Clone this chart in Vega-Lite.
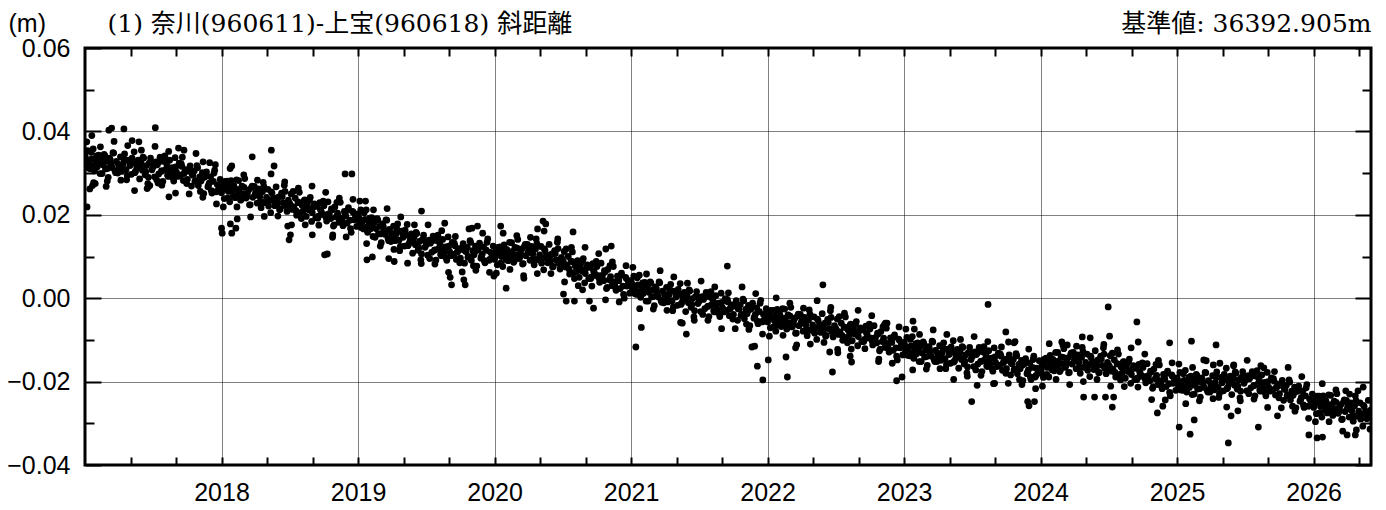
{
  "$schema": "https://vega.github.io/schema/vega-lite/v6.json",
  "width": 1286,
  "height": 417,
  "autosize": {"type": "none"},
  "padding": {"left": 85, "top": 48, "right": 15, "bottom": 45},
  "background": "white",
  "config": {
    "view": {"stroke": "black", "strokeWidth": 3},
    "axis": {"labelFont": "Liberation Sans", "labelFontSize": 25, "labelColor": "black", "domain": false, "tickColor": "black", "tickWidth": 2, "gridColor": "black", "gridDash": [1, 1], "gridWidth": 1, "titleColor": "black", "titleFontWeight": "normal"}
  },
  "datasets": {
    "gnss": [
{"t":2017.00,"v":0.0342},{"t":2017.01,"v":0.0322},{"t":2017.02,"v":0.0354},{"t":2017.03,"v":0.0326},{"t":2017.04,"v":0.0310},{"t":2017.05,"v":0.0334},{"t":2017.06,"v":0.0358},{"t":2017.07,"v":0.0305},{"t":2017.08,"v":0.0329},{"t":2017.09,"v":0.0315},{"t":2017.10,"v":0.0343},{"t":2017.11,"v":0.0299},{"t":2017.12,"v":0.0334},{"t":2017.13,"v":0.0320},{"t":2017.14,"v":0.0345},{"t":2017.15,"v":0.0310},{"t":2017.16,"v":0.0328},{"t":2017.17,"v":0.0290},{"t":2017.18,"v":0.0336},{"t":2017.19,"v":0.0322},{"t":2017.20,"v":0.0313},{"t":2017.21,"v":0.0348},{"t":2017.22,"v":0.0305},{"t":2017.23,"v":0.0328},{"t":2017.24,"v":0.0300},
{"t":2017.25,"v":0.0314},{"t":2017.26,"v":0.0339},{"t":2017.27,"v":0.0304},{"t":2017.28,"v":0.0322},{"t":2017.29,"v":0.0346},{"t":2017.30,"v":0.0308},{"t":2017.31,"v":0.0294},{"t":2017.32,"v":0.0331},{"t":2017.33,"v":0.0318},{"t":2017.34,"v":0.0297},{"t":2017.35,"v":0.0324},{"t":2017.36,"v":0.0351},{"t":2017.37,"v":0.0304},{"t":2017.38,"v":0.0313},{"t":2017.39,"v":0.0331},{"t":2017.40,"v":0.0286},{"t":2017.41,"v":0.0325},{"t":2017.42,"v":0.0307},{"t":2017.43,"v":0.0336},{"t":2017.44,"v":0.0296},{"t":2017.45,"v":0.0318},{"t":2017.46,"v":0.0275},{"t":2017.47,"v":0.0324},{"t":2017.48,"v":0.0336},{"t":2017.49,"v":0.0308},
{"t":2017.50,"v":0.0315},{"t":2017.51,"v":0.0291},{"t":2017.52,"v":0.0327},{"t":2017.53,"v":0.0320},{"t":2017.54,"v":0.0298},{"t":2017.55,"v":0.0338},{"t":2017.56,"v":0.0305},{"t":2017.57,"v":0.0280},{"t":2017.58,"v":0.0328},{"t":2017.59,"v":0.0308},{"t":2017.60,"v":0.0320},{"t":2017.61,"v":0.0292},{"t":2017.62,"v":0.0331},{"t":2017.63,"v":0.0298},{"t":2017.64,"v":0.0313},{"t":2017.65,"v":0.0281},{"t":2017.66,"v":0.0337},{"t":2017.67,"v":0.0302},{"t":2017.68,"v":0.0292},{"t":2017.69,"v":0.0324},{"t":2017.70,"v":0.0295},{"t":2017.71,"v":0.0316},{"t":2017.72,"v":0.0282},{"t":2017.73,"v":0.0302},{"t":2017.74,"v":0.0308},
{"t":2017.75,"v":0.0285},{"t":2017.76,"v":0.0305},{"t":2017.77,"v":0.0317},{"t":2017.78,"v":0.0269},{"t":2017.79,"v":0.0295},{"t":2017.80,"v":0.0305},{"t":2017.81,"v":0.0282},{"t":2017.82,"v":0.0318},{"t":2017.83,"v":0.0270},{"t":2017.84,"v":0.0291},{"t":2017.85,"v":0.0281},{"t":2017.86,"v":0.0301},{"t":2017.87,"v":0.0251},{"t":2017.88,"v":0.0291},{"t":2017.89,"v":0.0303},{"t":2017.90,"v":0.0267},{"t":2017.91,"v":0.0276},{"t":2017.92,"v":0.0291},{"t":2017.93,"v":0.0252},{"t":2017.94,"v":0.0280},{"t":2017.95,"v":0.0307},{"t":2017.96,"v":0.0255},{"t":2017.97,"v":0.0272},{"t":2017.98,"v":0.0260},{"t":2017.99,"v":0.0285},
{"t":2018.00,"v":0.0253},{"t":2018.01,"v":0.0272},{"t":2018.02,"v":0.0239},{"t":2018.03,"v":0.0266},{"t":2018.04,"v":0.0281},{"t":2018.05,"v":0.0256},{"t":2018.06,"v":0.0231},{"t":2018.07,"v":0.0282},{"t":2018.08,"v":0.0258},{"t":2018.09,"v":0.0270},{"t":2018.10,"v":0.0241},{"t":2018.11,"v":0.0284},{"t":2018.12,"v":0.0248},{"t":2018.13,"v":0.0261},{"t":2018.14,"v":0.0235},{"t":2018.15,"v":0.0269},{"t":2018.16,"v":0.0250},{"t":2018.17,"v":0.0287},{"t":2018.18,"v":0.0240},{"t":2018.19,"v":0.0252},{"t":2018.20,"v":0.0260},{"t":2018.21,"v":0.0224},{"t":2018.22,"v":0.0266},{"t":2018.23,"v":0.0242},{"t":2018.24,"v":0.0268},
{"t":2018.25,"v":0.0254},{"t":2018.26,"v":0.0228},{"t":2018.27,"v":0.0262},{"t":2018.28,"v":0.0243},{"t":2018.29,"v":0.0217},{"t":2018.30,"v":0.0255},{"t":2018.31,"v":0.0268},{"t":2018.32,"v":0.0229},{"t":2018.33,"v":0.0242},{"t":2018.34,"v":0.0261},{"t":2018.35,"v":0.0233},{"t":2018.36,"v":0.0205},{"t":2018.37,"v":0.0252},{"t":2018.38,"v":0.0241},{"t":2018.39,"v":0.0222},{"t":2018.40,"v":0.0267},{"t":2018.41,"v":0.0227},{"t":2018.42,"v":0.0243},{"t":2018.43,"v":0.0214},{"t":2018.44,"v":0.0252},{"t":2018.45,"v":0.0229},{"t":2018.46,"v":0.0271},{"t":2018.47,"v":0.0221},{"t":2018.48,"v":0.0208},{"t":2018.49,"v":0.0235},
{"t":2018.50,"v":0.0227},{"t":2018.51,"v":0.0250},{"t":2018.52,"v":0.0213},{"t":2018.53,"v":0.0219},{"t":2018.54,"v":0.0240},{"t":2018.55,"v":0.0199},{"t":2018.56,"v":0.0231},{"t":2018.57,"v":0.0254},{"t":2018.58,"v":0.0205},{"t":2018.59,"v":0.0223},{"t":2018.60,"v":0.0210},{"t":2018.61,"v":0.0236},{"t":2018.62,"v":0.0196},{"t":2018.63,"v":0.0228},{"t":2018.64,"v":0.0212},{"t":2018.65,"v":0.0242},{"t":2018.66,"v":0.0184},{"t":2018.67,"v":0.0218},{"t":2018.68,"v":0.0226},{"t":2018.69,"v":0.0193},{"t":2018.70,"v":0.0220},{"t":2018.71,"v":0.0197},{"t":2018.72,"v":0.0229},{"t":2018.73,"v":0.0209},{"t":2018.74,"v":0.0201},
{"t":2018.75,"v":0.0222},{"t":2018.76,"v":0.0200},{"t":2018.77,"v":0.0185},{"t":2018.78,"v":0.0231},{"t":2018.79,"v":0.0202},{"t":2018.80,"v":0.0191},{"t":2018.81,"v":0.0212},{"t":2018.82,"v":0.0173},{"t":2018.83,"v":0.0219},{"t":2018.84,"v":0.0195},{"t":2018.85,"v":0.0204},{"t":2018.86,"v":0.0182},{"t":2018.87,"v":0.0230},{"t":2018.88,"v":0.0188},{"t":2018.89,"v":0.0174},{"t":2018.90,"v":0.0208},{"t":2018.91,"v":0.0197},{"t":2018.92,"v":0.0180},{"t":2018.93,"v":0.0217},{"t":2018.94,"v":0.0187},{"t":2018.95,"v":0.0158},{"t":2018.96,"v":0.0208},{"t":2018.97,"v":0.0188},{"t":2018.98,"v":0.0199},{"t":2018.99,"v":0.0172},
{"t":2019.00,"v":0.0202},{"t":2019.01,"v":0.0181},{"t":2019.02,"v":0.0212},{"t":2019.03,"v":0.0183},{"t":2019.04,"v":0.0166},{"t":2019.05,"v":0.0189},{"t":2019.06,"v":0.0212},{"t":2019.07,"v":0.0158},{"t":2019.08,"v":0.0181},{"t":2019.09,"v":0.0166},{"t":2019.10,"v":0.0193},{"t":2019.11,"v":0.0148},{"t":2019.12,"v":0.0182},{"t":2019.13,"v":0.0167},{"t":2019.14,"v":0.0191},{"t":2019.15,"v":0.0155},{"t":2019.16,"v":0.0172},{"t":2019.17,"v":0.0133},{"t":2019.18,"v":0.0178},{"t":2019.19,"v":0.0163},{"t":2019.20,"v":0.0153},{"t":2019.21,"v":0.0187},{"t":2019.22,"v":0.0143},{"t":2019.23,"v":0.0165},{"t":2019.24,"v":0.0136},
{"t":2019.25,"v":0.0149},{"t":2019.26,"v":0.0173},{"t":2019.27,"v":0.0138},{"t":2019.28,"v":0.0154},{"t":2019.29,"v":0.0178},{"t":2019.30,"v":0.0139},{"t":2019.31,"v":0.0124},{"t":2019.32,"v":0.0161},{"t":2019.33,"v":0.0146},{"t":2019.34,"v":0.0125},{"t":2019.35,"v":0.0151},{"t":2019.36,"v":0.0177},{"t":2019.37,"v":0.0129},{"t":2019.38,"v":0.0137},{"t":2019.39,"v":0.0154},{"t":2019.40,"v":0.0108},{"t":2019.41,"v":0.0146},{"t":2019.42,"v":0.0128},{"t":2019.43,"v":0.0155},{"t":2019.44,"v":0.0115},{"t":2019.45,"v":0.0136},{"t":2019.46,"v":0.0092},{"t":2019.47,"v":0.0140},{"t":2019.48,"v":0.0151},{"t":2019.49,"v":0.0122},
{"t":2019.50,"v":0.0128},{"t":2019.51,"v":0.0103},{"t":2019.52,"v":0.0139},{"t":2019.53,"v":0.0132},{"t":2019.54,"v":0.0110},{"t":2019.55,"v":0.0149},{"t":2019.56,"v":0.0115},{"t":2019.57,"v":0.0091},{"t":2019.58,"v":0.0138},{"t":2019.59,"v":0.0119},{"t":2019.60,"v":0.0130},{"t":2019.61,"v":0.0102},{"t":2019.62,"v":0.0141},{"t":2019.63,"v":0.0108},{"t":2019.64,"v":0.0123},{"t":2019.65,"v":0.0091},{"t":2019.66,"v":0.0147},{"t":2019.67,"v":0.0112},{"t":2019.68,"v":0.0102},{"t":2019.69,"v":0.0134},{"t":2019.70,"v":0.0105},{"t":2019.71,"v":0.0126},{"t":2019.72,"v":0.0093},{"t":2019.73,"v":0.0112},{"t":2019.74,"v":0.0119},
{"t":2019.75,"v":0.0096},{"t":2019.76,"v":0.0117},{"t":2019.77,"v":0.0131},{"t":2019.78,"v":0.0084},{"t":2019.79,"v":0.0112},{"t":2019.80,"v":0.0122},{"t":2019.81,"v":0.0100},{"t":2019.82,"v":0.0138},{"t":2019.83,"v":0.0091},{"t":2019.84,"v":0.0114},{"t":2019.85,"v":0.0104},{"t":2019.86,"v":0.0125},{"t":2019.87,"v":0.0077},{"t":2019.88,"v":0.0118},{"t":2019.89,"v":0.0132},{"t":2019.90,"v":0.0096},{"t":2019.91,"v":0.0106},{"t":2019.92,"v":0.0123},{"t":2019.93,"v":0.0085},{"t":2019.94,"v":0.0115},{"t":2019.95,"v":0.0142},{"t":2019.96,"v":0.0091},{"t":2019.97,"v":0.0110},{"t":2019.98,"v":0.0099},{"t":2019.99,"v":0.0125},
{"t":2020.00,"v":0.0093},{"t":2020.01,"v":0.0113},{"t":2020.02,"v":0.0080},{"t":2020.03,"v":0.0108},{"t":2020.04,"v":0.0123},{"t":2020.05,"v":0.0100},{"t":2020.06,"v":0.0076},{"t":2020.07,"v":0.0128},{"t":2020.08,"v":0.0104},{"t":2020.09,"v":0.0117},{"t":2020.10,"v":0.0090},{"t":2020.11,"v":0.0134},{"t":2020.12,"v":0.0098},{"t":2020.13,"v":0.0112},{"t":2020.14,"v":0.0086},{"t":2020.15,"v":0.0122},{"t":2020.16,"v":0.0104},{"t":2020.17,"v":0.0141},{"t":2020.18,"v":0.0095},{"t":2020.19,"v":0.0108},{"t":2020.20,"v":0.0118},{"t":2020.21,"v":0.0083},{"t":2020.22,"v":0.0125},{"t":2020.23,"v":0.0102},{"t":2020.24,"v":0.0129},
{"t":2020.25,"v":0.0116},{"t":2020.26,"v":0.0091},{"t":2020.27,"v":0.0124},{"t":2020.28,"v":0.0106},{"t":2020.29,"v":0.0080},{"t":2020.30,"v":0.0118},{"t":2020.31,"v":0.0131},{"t":2020.32,"v":0.0092},{"t":2020.33,"v":0.0104},{"t":2020.34,"v":0.0124},{"t":2020.35,"v":0.0096},{"t":2020.36,"v":0.0068},{"t":2020.37,"v":0.0114},{"t":2020.38,"v":0.0104},{"t":2020.39,"v":0.0085},{"t":2020.40,"v":0.0129},{"t":2020.41,"v":0.0089},{"t":2020.42,"v":0.0106},{"t":2020.43,"v":0.0076},{"t":2020.44,"v":0.0114},{"t":2020.45,"v":0.0092},{"t":2020.46,"v":0.0134},{"t":2020.47,"v":0.0084},{"t":2020.48,"v":0.0070},{"t":2020.49,"v":0.0098},
{"t":2020.50,"v":0.0090},{"t":2020.51,"v":0.0112},{"t":2020.52,"v":0.0075},{"t":2020.53,"v":0.0079},{"t":2020.54,"v":0.0100},{"t":2020.55,"v":0.0058},{"t":2020.56,"v":0.0089},{"t":2020.57,"v":0.0111},{"t":2020.58,"v":0.0061},{"t":2020.59,"v":0.0078},{"t":2020.60,"v":0.0064},{"t":2020.61,"v":0.0090},{"t":2020.62,"v":0.0050},{"t":2020.63,"v":0.0081},{"t":2020.64,"v":0.0065},{"t":2020.65,"v":0.0095},{"t":2020.66,"v":0.0037},{"t":2020.67,"v":0.0071},{"t":2020.68,"v":0.0080},{"t":2020.69,"v":0.0047},{"t":2020.70,"v":0.0074},{"t":2020.71,"v":0.0051},{"t":2020.72,"v":0.0083},{"t":2020.73,"v":0.0063},{"t":2020.74,"v":0.0055},
{"t":2020.75,"v":0.0076},{"t":2020.76,"v":0.0054},{"t":2020.77,"v":0.0038},{"t":2020.78,"v":0.0084},{"t":2020.79,"v":0.0054},{"t":2020.80,"v":0.0042},{"t":2020.81,"v":0.0063},{"t":2020.82,"v":0.0023},{"t":2020.83,"v":0.0069},{"t":2020.84,"v":0.0044},{"t":2020.85,"v":0.0052},{"t":2020.86,"v":0.0030},{"t":2020.87,"v":0.0076},{"t":2020.88,"v":0.0034},{"t":2020.89,"v":0.0019},{"t":2020.90,"v":0.0053},{"t":2020.91,"v":0.0042},{"t":2020.92,"v":0.0023},{"t":2020.93,"v":0.0060},{"t":2020.94,"v":0.0029},{"t":2020.95,"v":0.0000},{"t":2020.96,"v":0.0050},{"t":2020.97,"v":0.0029},{"t":2020.98,"v":0.0039},{"t":2020.99,"v":0.0012},
{"t":2021.00,"v":0.0042},{"t":2021.01,"v":0.0021},{"t":2021.02,"v":0.0053},{"t":2021.03,"v":0.0025},{"t":2021.04,"v":0.0009},{"t":2021.05,"v":0.0032},{"t":2021.06,"v":0.0055},{"t":2021.07,"v":0.0002},{"t":2021.08,"v":0.0025},{"t":2021.09,"v":0.0011},{"t":2021.10,"v":0.0038},{"t":2021.11,"v":-0.0007},{"t":2021.12,"v":0.0028},{"t":2021.13,"v":0.0014},{"t":2021.14,"v":0.0039},{"t":2021.15,"v":0.0003},{"t":2021.16,"v":0.0020},{"t":2021.17,"v":-0.0018},{"t":2021.18,"v":0.0027},{"t":2021.19,"v":0.0013},{"t":2021.20,"v":0.0003},{"t":2021.21,"v":0.0037},{"t":2021.22,"v":-0.0006},{"t":2021.23,"v":0.0017},{"t":2021.24,"v":-0.0011},
{"t":2021.25,"v":0.0002},{"t":2021.26,"v":0.0026},{"t":2021.27,"v":-0.0009},{"t":2021.28,"v":0.0009},{"t":2021.29,"v":0.0033},{"t":2021.30,"v":-0.0006},{"t":2021.31,"v":-0.0021},{"t":2021.32,"v":0.0017},{"t":2021.33,"v":0.0003},{"t":2021.34,"v":-0.0017},{"t":2021.35,"v":0.0009},{"t":2021.36,"v":0.0035},{"t":2021.37,"v":-0.0012},{"t":2021.38,"v":-0.0003},{"t":2021.39,"v":0.0014},{"t":2021.40,"v":-0.0032},{"t":2021.41,"v":0.0006},{"t":2021.42,"v":-0.0011},{"t":2021.43,"v":0.0017},{"t":2021.44,"v":-0.0022},{"t":2021.45,"v":-0.0001},{"t":2021.46,"v":-0.0045},{"t":2021.47,"v":0.0003},{"t":2021.48,"v":0.0016},{"t":2021.49,"v":-0.0013},
{"t":2021.50,"v":-0.0007},{"t":2021.51,"v":-0.0032},{"t":2021.52,"v":0.0004},{"t":2021.53,"v":-0.0003},{"t":2021.54,"v":-0.0025},{"t":2021.55,"v":0.0014},{"t":2021.56,"v":-0.0020},{"t":2021.57,"v":-0.0044},{"t":2021.58,"v":0.0003},{"t":2021.59,"v":-0.0016},{"t":2021.60,"v":-0.0005},{"t":2021.61,"v":-0.0033},{"t":2021.62,"v":0.0006},{"t":2021.63,"v":-0.0027},{"t":2021.64,"v":-0.0012},{"t":2021.65,"v":-0.0044},{"t":2021.66,"v":0.0012},{"t":2021.67,"v":-0.0023},{"t":2021.68,"v":-0.0033},{"t":2021.69,"v":-0.0001},{"t":2021.70,"v":-0.0030},{"t":2021.71,"v":-0.0009},{"t":2021.72,"v":-0.0042},{"t":2021.73,"v":-0.0023},{"t":2021.74,"v":-0.0016},
{"t":2021.75,"v":-0.0039},{"t":2021.76,"v":-0.0019},{"t":2021.77,"v":-0.0006},{"t":2021.78,"v":-0.0053},{"t":2021.79,"v":-0.0026},{"t":2021.80,"v":-0.0016},{"t":2021.81,"v":-0.0039},{"t":2021.82,"v":-0.0002},{"t":2021.83,"v":-0.0049},{"t":2021.84,"v":-0.0027},{"t":2021.85,"v":-0.0037},{"t":2021.86,"v":-0.0017},{"t":2021.87,"v":-0.0066},{"t":2021.88,"v":-0.0025},{"t":2021.89,"v":-0.0012},{"t":2021.90,"v":-0.0048},{"t":2021.91,"v":-0.0039},{"t":2021.92,"v":-0.0023},{"t":2021.93,"v":-0.0061},{"t":2021.94,"v":-0.0032},{"t":2021.95,"v":-0.0005},{"t":2021.96,"v":-0.0057},{"t":2021.97,"v":-0.0039},{"t":2021.98,"v":-0.0050},{"t":2021.99,"v":-0.0025},
{"t":2022.00,"v":-0.0057},{"t":2022.01,"v":-0.0038},{"t":2022.02,"v":-0.0071},{"t":2022.03,"v":-0.0044},{"t":2022.04,"v":-0.0029},{"t":2022.05,"v":-0.0054},{"t":2022.06,"v":-0.0079},{"t":2022.07,"v":-0.0027},{"t":2022.08,"v":-0.0052},{"t":2022.09,"v":-0.0039},{"t":2022.10,"v":-0.0068},{"t":2022.11,"v":-0.0025},{"t":2022.12,"v":-0.0061},{"t":2022.13,"v":-0.0048},{"t":2022.14,"v":-0.0074},{"t":2022.15,"v":-0.0040},{"t":2022.16,"v":-0.0059},{"t":2022.17,"v":-0.0022},{"t":2022.18,"v":-0.0069},{"t":2022.19,"v":-0.0056},{"t":2022.20,"v":-0.0048},{"t":2022.21,"v":-0.0084},{"t":2022.22,"v":-0.0042},{"t":2022.23,"v":-0.0066},{"t":2022.24,"v":-0.0039},
{"t":2022.25,"v":-0.0054},{"t":2022.26,"v":-0.0079},{"t":2022.27,"v":-0.0046},{"t":2022.28,"v":-0.0064},{"t":2022.29,"v":-0.0090},{"t":2022.30,"v":-0.0052},{"t":2022.31,"v":-0.0038},{"t":2022.32,"v":-0.0077},{"t":2022.33,"v":-0.0064},{"t":2022.34,"v":-0.0045},{"t":2022.35,"v":-0.0072},{"t":2022.36,"v":-0.0099},{"t":2022.37,"v":-0.0053},{"t":2022.38,"v":-0.0063},{"t":2022.39,"v":-0.0082},{"t":2022.40,"v":-0.0037},{"t":2022.41,"v":-0.0076},{"t":2022.42,"v":-0.0060},{"t":2022.43,"v":-0.0089},{"t":2022.44,"v":-0.0051},{"t":2022.45,"v":-0.0073},{"t":2022.46,"v":-0.0030},{"t":2022.47,"v":-0.0080},{"t":2022.48,"v":-0.0093},{"t":2022.49,"v":-0.0066},
{"t":2022.50,"v":-0.0073},{"t":2022.51,"v":-0.0050},{"t":2022.52,"v":-0.0087},{"t":2022.53,"v":-0.0081},{"t":2022.54,"v":-0.0060},{"t":2022.55,"v":-0.0101},{"t":2022.56,"v":-0.0069},{"t":2022.57,"v":-0.0045},{"t":2022.58,"v":-0.0094},{"t":2022.59,"v":-0.0076},{"t":2022.60,"v":-0.0088},{"t":2022.61,"v":-0.0062},{"t":2022.62,"v":-0.0102},{"t":2022.63,"v":-0.0071},{"t":2022.64,"v":-0.0086},{"t":2022.65,"v":-0.0056},{"t":2022.66,"v":-0.0114},{"t":2022.67,"v":-0.0079},{"t":2022.68,"v":-0.0071},{"t":2022.69,"v":-0.0104},{"t":2022.70,"v":-0.0076},{"t":2022.71,"v":-0.0099},{"t":2022.72,"v":-0.0067},{"t":2022.73,"v":-0.0088},{"t":2022.74,"v":-0.0095},
{"t":2022.75,"v":-0.0074},{"t":2022.76,"v":-0.0096},{"t":2022.77,"v":-0.0112},{"t":2022.78,"v":-0.0066},{"t":2022.79,"v":-0.0095},{"t":2022.80,"v":-0.0107},{"t":2022.81,"v":-0.0086},{"t":2022.82,"v":-0.0126},{"t":2022.83,"v":-0.0080},{"t":2022.84,"v":-0.0104},{"t":2022.85,"v":-0.0096},{"t":2022.86,"v":-0.0118},{"t":2022.87,"v":-0.0072},{"t":2022.88,"v":-0.0114},{"t":2022.89,"v":-0.0129},{"t":2022.90,"v":-0.0095},{"t":2022.91,"v":-0.0106},{"t":2022.92,"v":-0.0125},{"t":2022.93,"v":-0.0088},{"t":2022.94,"v":-0.0119},{"t":2022.95,"v":-0.0148},{"t":2022.96,"v":-0.0098},{"t":2022.97,"v":-0.0119},{"t":2022.98,"v":-0.0109},{"t":2022.99,"v":-0.0136},
{"t":2023.00,"v":-0.0106},{"t":2023.01,"v":-0.0127},{"t":2023.02,"v":-0.0094},{"t":2023.03,"v":-0.0123},{"t":2023.04,"v":-0.0138},{"t":2023.05,"v":-0.0115},{"t":2023.06,"v":-0.0092},{"t":2023.07,"v":-0.0144},{"t":2023.08,"v":-0.0121},{"t":2023.09,"v":-0.0134},{"t":2023.10,"v":-0.0107},{"t":2023.11,"v":-0.0152},{"t":2023.12,"v":-0.0116},{"t":2023.13,"v":-0.0131},{"t":2023.14,"v":-0.0105},{"t":2023.15,"v":-0.0141},{"t":2023.16,"v":-0.0124},{"t":2023.17,"v":-0.0161},{"t":2023.18,"v":-0.0116},{"t":2023.19,"v":-0.0129},{"t":2023.20,"v":-0.0139},{"t":2023.21,"v":-0.0105},{"t":2023.22,"v":-0.0147},{"t":2023.23,"v":-0.0125},{"t":2023.24,"v":-0.0152},
{"t":2023.25,"v":-0.0139},{"t":2023.26,"v":-0.0114},{"t":2023.27,"v":-0.0149},{"t":2023.28,"v":-0.0131},{"t":2023.29,"v":-0.0107},{"t":2023.30,"v":-0.0145},{"t":2023.31,"v":-0.0159},{"t":2023.32,"v":-0.0122},{"t":2023.33,"v":-0.0135},{"t":2023.34,"v":-0.0156},{"t":2023.35,"v":-0.0129},{"t":2023.36,"v":-0.0102},{"t":2023.37,"v":-0.0150},{"t":2023.38,"v":-0.0140},{"t":2023.39,"v":-0.0123},{"t":2023.40,"v":-0.0168},{"t":2023.41,"v":-0.0129},{"t":2023.42,"v":-0.0147},{"t":2023.43,"v":-0.0118},{"t":2023.44,"v":-0.0158},{"t":2023.45,"v":-0.0136},{"t":2023.46,"v":-0.0179},{"t":2023.47,"v":-0.0131},{"t":2023.48,"v":-0.0118},{"t":2023.49,"v":-0.0147},
{"t":2023.50,"v":-0.0140},{"t":2023.51,"v":-0.0164},{"t":2023.52,"v":-0.0129},{"t":2023.53,"v":-0.0135},{"t":2023.54,"v":-0.0158},{"t":2023.55,"v":-0.0118},{"t":2023.56,"v":-0.0152},{"t":2023.57,"v":-0.0176},{"t":2023.58,"v":-0.0129},{"t":2023.59,"v":-0.0148},{"t":2023.60,"v":-0.0137},{"t":2023.61,"v":-0.0164},{"t":2023.62,"v":-0.0126},{"t":2023.63,"v":-0.0158},{"t":2023.64,"v":-0.0144},{"t":2023.65,"v":-0.0175},{"t":2023.66,"v":-0.0119},{"t":2023.67,"v":-0.0154},{"t":2023.68,"v":-0.0164},{"t":2023.69,"v":-0.0132},{"t":2023.70,"v":-0.0161},{"t":2023.71,"v":-0.0139},{"t":2023.72,"v":-0.0173},{"t":2023.73,"v":-0.0153},{"t":2023.74,"v":-0.0147},
{"t":2023.75,"v":-0.0169},{"t":2023.76,"v":-0.0149},{"t":2023.77,"v":-0.0136},{"t":2023.78,"v":-0.0184},{"t":2023.79,"v":-0.0157},{"t":2023.80,"v":-0.0147},{"t":2023.81,"v":-0.0170},{"t":2023.82,"v":-0.0133},{"t":2023.83,"v":-0.0181},{"t":2023.84,"v":-0.0159},{"t":2023.85,"v":-0.0169},{"t":2023.86,"v":-0.0149},{"t":2023.87,"v":-0.0198},{"t":2023.88,"v":-0.0158},{"t":2023.89,"v":-0.0145},{"t":2023.90,"v":-0.0181},{"t":2023.91,"v":-0.0172},{"t":2023.92,"v":-0.0156},{"t":2023.93,"v":-0.0195},{"t":2023.94,"v":-0.0166},{"t":2023.95,"v":-0.0139},{"t":2023.96,"v":-0.0189},{"t":2023.97,"v":-0.0168},{"t":2023.98,"v":-0.0178},{"t":2023.99,"v":-0.0150},
{"t":2024.00,"v":-0.0180},{"t":2024.01,"v":-0.0158},{"t":2024.02,"v":-0.0190},{"t":2024.03,"v":-0.0160},{"t":2024.04,"v":-0.0144},{"t":2024.05,"v":-0.0166},{"t":2024.06,"v":-0.0189},{"t":2024.07,"v":-0.0137},{"t":2024.08,"v":-0.0160},{"t":2024.09,"v":-0.0147},{"t":2024.10,"v":-0.0174},{"t":2024.11,"v":-0.0130},{"t":2024.12,"v":-0.0165},{"t":2024.13,"v":-0.0151},{"t":2024.14,"v":-0.0176},{"t":2024.15,"v":-0.0141},{"t":2024.16,"v":-0.0158},{"t":2024.17,"v":-0.0121},{"t":2024.18,"v":-0.0166},{"t":2024.19,"v":-0.0153},{"t":2024.20,"v":-0.0143},{"t":2024.21,"v":-0.0178},{"t":2024.22,"v":-0.0135},{"t":2024.23,"v":-0.0158},{"t":2024.24,"v":-0.0130},
{"t":2024.25,"v":-0.0144},{"t":2024.26,"v":-0.0169},{"t":2024.27,"v":-0.0136},{"t":2024.28,"v":-0.0154},{"t":2024.29,"v":-0.0180},{"t":2024.30,"v":-0.0142},{"t":2024.31,"v":-0.0128},{"t":2024.32,"v":-0.0166},{"t":2024.33,"v":-0.0154},{"t":2024.34,"v":-0.0134},{"t":2024.35,"v":-0.0161},{"t":2024.36,"v":-0.0188},{"t":2024.37,"v":-0.0142},{"t":2024.38,"v":-0.0152},{"t":2024.39,"v":-0.0171},{"t":2024.40,"v":-0.0126},{"t":2024.41,"v":-0.0165},{"t":2024.42,"v":-0.0148},{"t":2024.43,"v":-0.0178},{"t":2024.44,"v":-0.0139},{"t":2024.45,"v":-0.0161},{"t":2024.46,"v":-0.0119},{"t":2024.47,"v":-0.0168},{"t":2024.48,"v":-0.0181},{"t":2024.49,"v":-0.0154},
{"t":2024.50,"v":-0.0161},{"t":2024.51,"v":-0.0138},{"t":2024.52,"v":-0.0175},{"t":2024.53,"v":-0.0170},{"t":2024.54,"v":-0.0148},{"t":2024.55,"v":-0.0189},{"t":2024.56,"v":-0.0157},{"t":2024.57,"v":-0.0134},{"t":2024.58,"v":-0.0183},{"t":2024.59,"v":-0.0165},{"t":2024.60,"v":-0.0178},{"t":2024.61,"v":-0.0152},{"t":2024.62,"v":-0.0192},{"t":2024.63,"v":-0.0160},{"t":2024.64,"v":-0.0176},{"t":2024.65,"v":-0.0146},{"t":2024.66,"v":-0.0204},{"t":2024.67,"v":-0.0170},{"t":2024.68,"v":-0.0162},{"t":2024.69,"v":-0.0195},{"t":2024.70,"v":-0.0168},{"t":2024.71,"v":-0.0191},{"t":2024.72,"v":-0.0159},{"t":2024.73,"v":-0.0180},{"t":2024.74,"v":-0.0187},
{"t":2024.75,"v":-0.0166},{"t":2024.76,"v":-0.0188},{"t":2024.77,"v":-0.0203},{"t":2024.78,"v":-0.0157},{"t":2024.79,"v":-0.0186},{"t":2024.80,"v":-0.0198},{"t":2024.81,"v":-0.0177},{"t":2024.82,"v":-0.0216},{"t":2024.83,"v":-0.0170},{"t":2024.84,"v":-0.0193},{"t":2024.85,"v":-0.0185},{"t":2024.86,"v":-0.0207},{"t":2024.87,"v":-0.0160},{"t":2024.88,"v":-0.0202},{"t":2024.89,"v":-0.0217},{"t":2024.90,"v":-0.0183},{"t":2024.91,"v":-0.0194},{"t":2024.92,"v":-0.0212},{"t":2024.93,"v":-0.0175},{"t":2024.94,"v":-0.0205},{"t":2024.95,"v":-0.0234},{"t":2024.96,"v":-0.0184},{"t":2024.97,"v":-0.0204},{"t":2024.98,"v":-0.0194},{"t":2024.99,"v":-0.0221},
{"t":2025.00,"v":-0.0191},{"t":2025.01,"v":-0.0211},{"t":2025.02,"v":-0.0178},{"t":2025.03,"v":-0.0206},{"t":2025.04,"v":-0.0221},{"t":2025.05,"v":-0.0197},{"t":2025.06,"v":-0.0173},{"t":2025.07,"v":-0.0225},{"t":2025.08,"v":-0.0201},{"t":2025.09,"v":-0.0214},{"t":2025.10,"v":-0.0187},{"t":2025.11,"v":-0.0231},{"t":2025.12,"v":-0.0195},{"t":2025.13,"v":-0.0209},{"t":2025.14,"v":-0.0183},{"t":2025.15,"v":-0.0218},{"t":2025.16,"v":-0.0200},{"t":2025.17,"v":-0.0237},{"t":2025.18,"v":-0.0191},{"t":2025.19,"v":-0.0204},{"t":2025.20,"v":-0.0214},{"t":2025.21,"v":-0.0179},{"t":2025.22,"v":-0.0221},{"t":2025.23,"v":-0.0198},{"t":2025.24,"v":-0.0225},
{"t":2025.25,"v":-0.0211},{"t":2025.26,"v":-0.0186},{"t":2025.27,"v":-0.0220},{"t":2025.28,"v":-0.0202},{"t":2025.29,"v":-0.0177},{"t":2025.30,"v":-0.0214},{"t":2025.31,"v":-0.0228},{"t":2025.32,"v":-0.0190},{"t":2025.33,"v":-0.0203},{"t":2025.34,"v":-0.0222},{"t":2025.35,"v":-0.0195},{"t":2025.36,"v":-0.0168},{"t":2025.37,"v":-0.0215},{"t":2025.38,"v":-0.0205},{"t":2025.39,"v":-0.0187},{"t":2025.40,"v":-0.0231},{"t":2025.41,"v":-0.0192},{"t":2025.42,"v":-0.0209},{"t":2025.43,"v":-0.0180},{"t":2025.44,"v":-0.0218},{"t":2025.45,"v":-0.0196},{"t":2025.46,"v":-0.0239},{"t":2025.47,"v":-0.0190},{"t":2025.48,"v":-0.0176},{"t":2025.49,"v":-0.0204},
{"t":2025.50,"v":-0.0197},{"t":2025.51,"v":-0.0222},{"t":2025.52,"v":-0.0186},{"t":2025.53,"v":-0.0193},{"t":2025.54,"v":-0.0215},{"t":2025.55,"v":-0.0176},{"t":2025.56,"v":-0.0210},{"t":2025.57,"v":-0.0234},{"t":2025.58,"v":-0.0187},{"t":2025.59,"v":-0.0206},{"t":2025.60,"v":-0.0195},{"t":2025.61,"v":-0.0223},{"t":2025.62,"v":-0.0184},{"t":2025.63,"v":-0.0217},{"t":2025.64,"v":-0.0202},{"t":2025.65,"v":-0.0234},{"t":2025.66,"v":-0.0178},{"t":2025.67,"v":-0.0213},{"t":2025.68,"v":-0.0223},{"t":2025.69,"v":-0.0191},{"t":2025.70,"v":-0.0220},{"t":2025.71,"v":-0.0199},{"t":2025.72,"v":-0.0232},{"t":2025.73,"v":-0.0213},{"t":2025.74,"v":-0.0206},
{"t":2025.75,"v":-0.0229},{"t":2025.76,"v":-0.0209},{"t":2025.77,"v":-0.0197},{"t":2025.78,"v":-0.0245},{"t":2025.79,"v":-0.0219},{"t":2025.80,"v":-0.0209},{"t":2025.81,"v":-0.0232},{"t":2025.82,"v":-0.0196},{"t":2025.83,"v":-0.0244},{"t":2025.84,"v":-0.0223},{"t":2025.85,"v":-0.0233},{"t":2025.86,"v":-0.0213},{"t":2025.87,"v":-0.0263},{"t":2025.88,"v":-0.0223},{"t":2025.89,"v":-0.0211},{"t":2025.90,"v":-0.0247},{"t":2025.91,"v":-0.0238},{"t":2025.92,"v":-0.0223},{"t":2025.93,"v":-0.0262},{"t":2025.94,"v":-0.0234},{"t":2025.95,"v":-0.0207},{"t":2025.96,"v":-0.0259},{"t":2025.97,"v":-0.0242},{"t":2025.98,"v":-0.0254},{"t":2025.99,"v":-0.0230},
{"t":2026.00,"v":-0.0262},{"t":2026.01,"v":-0.0243},{"t":2026.02,"v":-0.0277},{"t":2026.03,"v":-0.0249},{"t":2026.04,"v":-0.0235},{"t":2026.05,"v":-0.0260},{"t":2026.06,"v":-0.0285},{"t":2026.07,"v":-0.0234},{"t":2026.08,"v":-0.0258},{"t":2026.09,"v":-0.0246},{"t":2026.10,"v":-0.0275},{"t":2026.11,"v":-0.0232},{"t":2026.12,"v":-0.0268},{"t":2026.13,"v":-0.0255},{"t":2026.14,"v":-0.0281},{"t":2026.15,"v":-0.0247},{"t":2026.16,"v":-0.0266},{"t":2026.17,"v":-0.0229},{"t":2026.18,"v":-0.0276},{"t":2026.19,"v":-0.0263},{"t":2026.20,"v":-0.0255},{"t":2026.21,"v":-0.0290},{"t":2026.22,"v":-0.0248},{"t":2026.23,"v":-0.0272},{"t":2026.24,"v":-0.0245},
{"t":2026.25,"v":-0.0259},{"t":2026.26,"v":-0.0285},{"t":2026.27,"v":-0.0251},{"t":2026.28,"v":-0.0270},{"t":2026.29,"v":-0.0295},{"t":2026.30,"v":-0.0258},{"t":2026.31,"v":-0.0245},{"t":2026.32,"v":-0.0283},{"t":2026.33,"v":-0.0271},{"t":2026.34,"v":-0.0251},{"t":2026.35,"v":-0.0279},{"t":2026.36,"v":-0.0307},{"t":2026.37,"v":-0.0260},{"t":2026.38,"v":-0.0271},{"t":2026.39,"v":-0.0289},{"t":2026.40,"v":-0.0245},{"t":2026.41,"v":-0.0284},{"t":2026.42,"v":-0.0268},
{"t":2017.005,"v":0.0335},{"t":2017.025,"v":0.0312},{"t":2017.045,"v":0.0350},{"t":2017.065,"v":0.0318},{"t":2017.085,"v":0.0341},{"t":2017.105,"v":0.0323},{"t":2017.125,"v":0.0299},{"t":2017.145,"v":0.0342},{"t":2017.165,"v":0.0311},{"t":2017.185,"v":0.0332},{"t":2017.205,"v":0.0349},{"t":2017.225,"v":0.0301},{"t":2017.245,"v":0.0321},{"t":2017.265,"v":0.0312},{"t":2017.285,"v":0.0333},{"t":2017.305,"v":0.0284},{"t":2017.325,"v":0.0328},{"t":2017.345,"v":0.0336},{"t":2017.365,"v":0.0301},{"t":2017.385,"v":0.0319},{"t":2017.405,"v":0.0314},{"t":2017.425,"v":0.0338},{"t":2017.445,"v":0.0303},{"t":2017.465,"v":0.0290},{"t":2017.485,"v":0.0325},
{"t":2017.505,"v":0.0319},{"t":2017.525,"v":0.0284},{"t":2017.545,"v":0.0327},{"t":2017.565,"v":0.0305},{"t":2017.585,"v":0.0341},{"t":2017.605,"v":0.0295},{"t":2017.625,"v":0.0310},{"t":2017.645,"v":0.0288},{"t":2017.665,"v":0.0315},{"t":2017.685,"v":0.0296},{"t":2017.705,"v":0.0322},{"t":2017.725,"v":0.0299},{"t":2017.745,"v":0.0275},{"t":2017.765,"v":0.0309},{"t":2017.785,"v":0.0297},{"t":2017.805,"v":0.0280},{"t":2017.825,"v":0.0313},{"t":2017.845,"v":0.0256},{"t":2017.865,"v":0.0289},{"t":2017.885,"v":0.0297},{"t":2017.905,"v":0.0271},{"t":2017.925,"v":0.0258},{"t":2017.945,"v":0.0300},{"t":2017.965,"v":0.0256},{"t":2017.985,"v":0.0266},
{"t":2018.005,"v":0.0260},{"t":2018.025,"v":0.0280},{"t":2018.045,"v":0.0240},{"t":2018.065,"v":0.0270},{"t":2018.085,"v":0.0245},{"t":2018.105,"v":0.0261},{"t":2018.125,"v":0.0282},{"t":2018.145,"v":0.0237},{"t":2018.165,"v":0.0266},{"t":2018.185,"v":0.0243},{"t":2018.205,"v":0.0224},{"t":2018.225,"v":0.0269},{"t":2018.245,"v":0.0247},{"t":2018.265,"v":0.0254},{"t":2018.285,"v":0.0231},{"t":2018.305,"v":0.0278},{"t":2018.325,"v":0.0232},{"t":2018.345,"v":0.0221},{"t":2018.365,"v":0.0255},{"t":2018.385,"v":0.0235},{"t":2018.405,"v":0.0238},{"t":2018.425,"v":0.0212},{"t":2018.445,"v":0.0244},{"t":2018.465,"v":0.0256},{"t":2018.485,"v":0.0218},
{"t":2018.505,"v":0.0223},{"t":2018.525,"v":0.0256},{"t":2018.545,"v":0.0210},{"t":2018.565,"v":0.0229},{"t":2018.585,"v":0.0191},{"t":2018.605,"v":0.0234},{"t":2018.625,"v":0.0217},{"t":2018.645,"v":0.0236},{"t":2018.665,"v":0.0205},{"t":2018.685,"v":0.0221},{"t":2018.705,"v":0.0192},{"t":2018.725,"v":0.0212},{"t":2018.745,"v":0.0233},{"t":2018.765,"v":0.0194},{"t":2018.785,"v":0.0202},{"t":2018.805,"v":0.0214},{"t":2018.825,"v":0.0176},{"t":2018.845,"v":0.0230},{"t":2018.865,"v":0.0193},{"t":2018.885,"v":0.0181},{"t":2018.905,"v":0.0203},{"t":2018.925,"v":0.0212},{"t":2018.945,"v":0.0167},{"t":2018.965,"v":0.0206},{"t":2018.985,"v":0.0191},
{"t":2019.005,"v":0.0194},{"t":2019.025,"v":0.0169},{"t":2019.045,"v":0.0205},{"t":2019.065,"v":0.0171},{"t":2019.085,"v":0.0192},{"t":2019.105,"v":0.0172},{"t":2019.125,"v":0.0146},{"t":2019.145,"v":0.0187},{"t":2019.165,"v":0.0154},{"t":2019.185,"v":0.0172},{"t":2019.205,"v":0.0188},{"t":2019.225,"v":0.0138},{"t":2019.245,"v":0.0156},{"t":2019.265,"v":0.0146},{"t":2019.285,"v":0.0165},{"t":2019.305,"v":0.0114},{"t":2019.325,"v":0.0157},{"t":2019.345,"v":0.0163},{"t":2019.365,"v":0.0126},{"t":2019.385,"v":0.0142},{"t":2019.405,"v":0.0135},{"t":2019.425,"v":0.0158},{"t":2019.445,"v":0.0121},{"t":2019.465,"v":0.0106},{"t":2019.485,"v":0.0139},
{"t":2019.505,"v":0.0132},{"t":2019.525,"v":0.0095},{"t":2019.545,"v":0.0138},{"t":2019.565,"v":0.0116},{"t":2019.585,"v":0.0151},{"t":2019.605,"v":0.0105},{"t":2019.625,"v":0.0119},{"t":2019.645,"v":0.0097},{"t":2019.665,"v":0.0125},{"t":2019.685,"v":0.0106},{"t":2019.705,"v":0.0132},{"t":2019.725,"v":0.0110},{"t":2019.745,"v":0.0085},{"t":2019.765,"v":0.0122},{"t":2019.785,"v":0.0113},{"t":2019.805,"v":0.0098},{"t":2019.825,"v":0.0134},{"t":2019.845,"v":0.0078},{"t":2019.865,"v":0.0114},{"t":2019.885,"v":0.0124},{"t":2019.905,"v":0.0101},{"t":2019.925,"v":0.0090},{"t":2019.945,"v":0.0134},{"t":2019.965,"v":0.0093},{"t":2019.985,"v":0.0105},
{"t":2020.005,"v":0.0100},{"t":2020.025,"v":0.0122},{"t":2020.045,"v":0.0084},{"t":2020.065,"v":0.0115},{"t":2020.085,"v":0.0092},{"t":2020.105,"v":0.0110},{"t":2020.125,"v":0.0133},{"t":2020.145,"v":0.0090},{"t":2020.165,"v":0.0120},{"t":2020.185,"v":0.0099},{"t":2020.205,"v":0.0082},{"t":2020.225,"v":0.0129},{"t":2020.245,"v":0.0109},{"t":2020.265,"v":0.0117},{"t":2020.285,"v":0.0094},{"t":2020.305,"v":0.0142},{"t":2020.325,"v":0.0095},{"t":2020.345,"v":0.0084},{"t":2020.365,"v":0.0118},{"t":2020.385,"v":0.0097},{"t":2020.405,"v":0.0101},{"t":2020.425,"v":0.0075},{"t":2020.445,"v":0.0107},{"t":2020.465,"v":0.0119},{"t":2020.485,"v":0.0081},
{"t":2020.505,"v":0.0086},{"t":2020.525,"v":0.0118},{"t":2020.545,"v":0.0070},{"t":2020.565,"v":0.0088},{"t":2020.585,"v":0.0047},{"t":2020.605,"v":0.0089},{"t":2020.625,"v":0.0071},{"t":2020.645,"v":0.0090},{"t":2020.665,"v":0.0059},{"t":2020.685,"v":0.0076},{"t":2020.705,"v":0.0047},{"t":2020.725,"v":0.0066},{"t":2020.745,"v":0.0088},{"t":2020.765,"v":0.0048},{"t":2020.785,"v":0.0054},{"t":2020.805,"v":0.0066},{"t":2020.825,"v":0.0026},{"t":2020.845,"v":0.0078},{"t":2020.865,"v":0.0040},{"t":2020.885,"v":0.0026},{"t":2020.905,"v":0.0047},{"t":2020.925,"v":0.0055},{"t":2020.945,"v":0.0009},{"t":2020.965,"v":0.0047},{"t":2020.985,"v":0.0031},
{"t":2021.005,"v":0.0035},{"t":2021.025,"v":0.0011},{"t":2021.045,"v":0.0049},{"t":2021.065,"v":0.0016},{"t":2021.085,"v":0.0037},{"t":2021.105,"v":0.0018},{"t":2021.125,"v":-0.0007},{"t":2021.145,"v":0.0036},{"t":2021.165,"v":0.0004},{"t":2021.185,"v":0.0023},{"t":2021.205,"v":0.0039},{"t":2021.225,"v":-0.0010},{"t":2021.245,"v":0.0010},{"t":2021.265,"v":0.0000},{"t":2021.285,"v":0.0020},{"t":2021.305,"v":-0.0030},{"t":2021.325,"v":0.0014},{"t":2021.345,"v":0.0021},{"t":2021.365,"v":-0.0015},{"t":2021.385,"v":0.0002},{"t":2021.405,"v":-0.0004},{"t":2021.425,"v":0.0020},{"t":2021.445,"v":-0.0015},{"t":2021.465,"v":-0.0030},{"t":2021.485,"v":0.0004},
{"t":2021.505,"v":-0.0003},{"t":2021.525,"v":-0.0039},{"t":2021.545,"v":0.0003},{"t":2021.565,"v":-0.0019},{"t":2021.585,"v":0.0016},{"t":2021.605,"v":-0.0030},{"t":2021.625,"v":-0.0015},{"t":2021.645,"v":-0.0037},{"t":2021.665,"v":-0.0010},{"t":2021.685,"v":-0.0029},{"t":2021.705,"v":-0.0003},{"t":2021.725,"v":-0.0025},{"t":2021.745,"v":-0.0050},{"t":2021.765,"v":-0.0014},{"t":2021.785,"v":-0.0025},{"t":2021.805,"v":-0.0041},{"t":2021.825,"v":-0.0006},{"t":2021.845,"v":-0.0062},{"t":2021.865,"v":-0.0028},{"t":2021.885,"v":-0.0019},{"t":2021.905,"v":-0.0044},{"t":2021.925,"v":-0.0055},{"t":2021.945,"v":-0.0012},{"t":2021.965,"v":-0.0055},{"t":2021.985,"v":-0.0044},
{"t":2022.005,"v":-0.0050},{"t":2022.025,"v":-0.0029},{"t":2022.045,"v":-0.0069},{"t":2022.065,"v":-0.0040},{"t":2022.085,"v":-0.0064},{"t":2022.105,"v":-0.0048},{"t":2022.125,"v":-0.0026},{"t":2022.145,"v":-0.0071},{"t":2022.165,"v":-0.0043},{"t":2022.185,"v":-0.0065},{"t":2022.205,"v":-0.0084},{"t":2022.225,"v":-0.0038},{"t":2022.245,"v":-0.0060},{"t":2022.265,"v":-0.0053},{"t":2022.285,"v":-0.0076},{"t":2022.305,"v":-0.0028},{"t":2022.325,"v":-0.0074},{"t":2022.345,"v":-0.0084},{"t":2022.365,"v":-0.0050},{"t":2022.385,"v":-0.0069},{"t":2022.405,"v":-0.0065},{"t":2022.425,"v":-0.0091},{"t":2022.445,"v":-0.0058},{"t":2022.465,"v":-0.0046},{"t":2022.485,"v":-0.0082},
{"t":2022.505,"v":-0.0077},{"t":2022.525,"v":-0.0044},{"t":2022.545,"v":-0.0089},{"t":2022.565,"v":-0.0070},{"t":2022.585,"v":-0.0107},{"t":2022.605,"v":-0.0064},{"t":2022.625,"v":-0.0081},{"t":2022.645,"v":-0.0061},{"t":2022.665,"v":-0.0092},{"t":2022.685,"v":-0.0075},{"t":2022.705,"v":-0.0104},{"t":2022.725,"v":-0.0084},{"t":2022.745,"v":-0.0062},{"t":2022.765,"v":-0.0102},{"t":2022.785,"v":-0.0095},{"t":2022.805,"v":-0.0084},{"t":2022.825,"v":-0.0122},{"t":2022.845,"v":-0.0069},{"t":2022.865,"v":-0.0108},{"t":2022.885,"v":-0.0121},{"t":2022.905,"v":-0.0101},{"t":2022.925,"v":-0.0093},{"t":2022.945,"v":-0.0139},{"t":2022.965,"v":-0.0101},{"t":2022.985,"v":-0.0116},
{"t":2023.005,"v":-0.0113},{"t":2023.025,"v":-0.0137},{"t":2023.045,"v":-0.0099},{"t":2023.065,"v":-0.0131},{"t":2023.085,"v":-0.0109},{"t":2023.105,"v":-0.0127},{"t":2023.125,"v":-0.0152},{"t":2023.145,"v":-0.0109},{"t":2023.165,"v":-0.0140},{"t":2023.185,"v":-0.0120},{"t":2023.205,"v":-0.0103},{"t":2023.225,"v":-0.0152},{"t":2023.245,"v":-0.0132},{"t":2023.265,"v":-0.0141},{"t":2023.285,"v":-0.0120},{"t":2023.305,"v":-0.0169},{"t":2023.325,"v":-0.0125},{"t":2023.345,"v":-0.0117},{"t":2023.365,"v":-0.0153},{"t":2023.385,"v":-0.0135},{"t":2023.405,"v":-0.0140},{"t":2023.425,"v":-0.0116},{"t":2023.445,"v":-0.0151},{"t":2023.465,"v":-0.0165},{"t":2023.485,"v":-0.0130},
{"t":2023.505,"v":-0.0136},{"t":2023.525,"v":-0.0172},{"t":2023.545,"v":-0.0129},{"t":2023.565,"v":-0.0151},{"t":2023.585,"v":-0.0116},{"t":2023.605,"v":-0.0162},{"t":2023.625,"v":-0.0147},{"t":2023.645,"v":-0.0169},{"t":2023.665,"v":-0.0141},{"t":2023.685,"v":-0.0160},{"t":2023.705,"v":-0.0134},{"t":2023.725,"v":-0.0156},{"t":2023.745,"v":-0.0180},{"t":2023.765,"v":-0.0145},{"t":2023.785,"v":-0.0156},{"t":2023.805,"v":-0.0172},{"t":2023.825,"v":-0.0138},{"t":2023.845,"v":-0.0195},{"t":2023.865,"v":-0.0161},{"t":2023.885,"v":-0.0152},{"t":2023.905,"v":-0.0177},{"t":2023.925,"v":-0.0189},{"t":2023.945,"v":-0.0147},{"t":2023.965,"v":-0.0186},{"t":2023.985,"v":-0.0170},
{"t":2024.005,"v":-0.0172},{"t":2024.025,"v":-0.0147},{"t":2024.045,"v":-0.0183},{"t":2024.065,"v":-0.0150},{"t":2024.085,"v":-0.0172},{"t":2024.105,"v":-0.0154},{"t":2024.125,"v":-0.0130},{"t":2024.145,"v":-0.0173},{"t":2024.165,"v":-0.0142},{"t":2024.185,"v":-0.0162},{"t":2024.205,"v":-0.0179},{"t":2024.225,"v":-0.0131},{"t":2024.245,"v":-0.0151},{"t":2024.265,"v":-0.0144},{"t":2024.285,"v":-0.0166},{"t":2024.305,"v":-0.0118},{"t":2024.325,"v":-0.0164},{"t":2024.345,"v":-0.0173},{"t":2024.365,"v":-0.0139},{"t":2024.385,"v":-0.0158},{"t":2024.405,"v":-0.0154},{"t":2024.425,"v":-0.0179},{"t":2024.445,"v":-0.0146},{"t":2024.465,"v":-0.0134},{"t":2024.485,"v":-0.0171},
{"t":2024.505,"v":-0.0165},{"t":2024.525,"v":-0.0132},{"t":2024.545,"v":-0.0178},{"t":2024.565,"v":-0.0158},{"t":2024.585,"v":-0.0196},{"t":2024.605,"v":-0.0153},{"t":2024.625,"v":-0.0171},{"t":2024.645,"v":-0.0152},{"t":2024.665,"v":-0.0183},{"t":2024.685,"v":-0.0166},{"t":2024.705,"v":-0.0195},{"t":2024.725,"v":-0.0176},{"t":2024.745,"v":-0.0155},{"t":2024.765,"v":-0.0194},{"t":2024.785,"v":-0.0187},{"t":2024.805,"v":-0.0175},{"t":2024.825,"v":-0.0212},{"t":2024.845,"v":-0.0159},{"t":2024.865,"v":-0.0197},{"t":2024.885,"v":-0.0210},{"t":2024.905,"v":-0.0189},{"t":2024.925,"v":-0.0180},{"t":2024.945,"v":-0.0226},{"t":2024.965,"v":-0.0187},{"t":2024.985,"v":-0.0202},
{"t":2025.005,"v":-0.0198},{"t":2025.025,"v":-0.0220},{"t":2025.045,"v":-0.0181},{"t":2025.065,"v":-0.0212},{"t":2025.085,"v":-0.0190},{"t":2025.105,"v":-0.0207},{"t":2025.125,"v":-0.0230},{"t":2025.145,"v":-0.0186},{"t":2025.165,"v":-0.0217},{"t":2025.185,"v":-0.0196},{"t":2025.205,"v":-0.0178},{"t":2025.225,"v":-0.0225},{"t":2025.245,"v":-0.0204},{"t":2025.265,"v":-0.0212},{"t":2025.285,"v":-0.0189},{"t":2025.305,"v":-0.0238},{"t":2025.325,"v":-0.0192},{"t":2025.345,"v":-0.0183},{"t":2025.365,"v":-0.0217},{"t":2025.385,"v":-0.0198},{"t":2025.405,"v":-0.0202},{"t":2025.425,"v":-0.0177},{"t":2025.445,"v":-0.0211},{"t":2025.465,"v":-0.0223},{"t":2025.485,"v":-0.0187},
{"t":2025.505,"v":-0.0193},{"t":2025.525,"v":-0.0229},{"t":2025.545,"v":-0.0187},{"t":2025.565,"v":-0.0209},{"t":2025.585,"v":-0.0174},{"t":2025.605,"v":-0.0220},{"t":2025.625,"v":-0.0205},{"t":2025.645,"v":-0.0227},{"t":2025.665,"v":-0.0200},{"t":2025.685,"v":-0.0219},{"t":2025.705,"v":-0.0193},{"t":2025.725,"v":-0.0215},{"t":2025.745,"v":-0.0239},{"t":2025.765,"v":-0.0206},{"t":2025.785,"v":-0.0217},{"t":2025.805,"v":-0.0234},{"t":2025.825,"v":-0.0201},{"t":2025.845,"v":-0.0259},{"t":2025.865,"v":-0.0225},{"t":2025.885,"v":-0.0217},{"t":2025.905,"v":-0.0243},{"t":2025.925,"v":-0.0256},{"t":2025.945,"v":-0.0215},{"t":2025.965,"v":-0.0258},{"t":2025.985,"v":-0.0248},
{"t":2026.005,"v":-0.0255},{"t":2026.025,"v":-0.0235},{"t":2026.045,"v":-0.0275},{"t":2026.065,"v":-0.0246},{"t":2026.085,"v":-0.0270},{"t":2026.105,"v":-0.0255},{"t":2026.125,"v":-0.0233},{"t":2026.145,"v":-0.0278},{"t":2026.165,"v":-0.0250},{"t":2026.185,"v":-0.0272},{"t":2026.205,"v":-0.0291},{"t":2026.225,"v":-0.0244},{"t":2026.245,"v":-0.0266},{"t":2026.265,"v":-0.0259},{"t":2026.285,"v":-0.0282},{"t":2026.305,"v":-0.0234},{"t":2026.325,"v":-0.0280},{"t":2026.345,"v":-0.0290},{"t":2026.365,"v":-0.0257},{"t":2026.385,"v":-0.0277},{"t":2026.405,"v":-0.0273},
{"t":2017.013,"v":0.0375},{"t":2017.063,"v":0.0277},{"t":2017.113,"v":0.0363},{"t":2017.163,"v":0.0281},{"t":2017.213,"v":0.0376},{"t":2017.263,"v":0.0283},{"t":2017.313,"v":0.0366},{"t":2017.363,"v":0.0258},{"t":2017.413,"v":0.0355},{"t":2017.463,"v":0.0267},{"t":2017.513,"v":0.0364},{"t":2017.563,"v":0.0271},{"t":2017.613,"v":0.0352},{"t":2017.663,"v":0.0252},{"t":2017.713,"v":0.0338},{"t":2017.763,"v":0.0250},{"t":2017.813,"v":0.0347},{"t":2017.863,"v":0.0242},{"t":2017.913,"v":0.0325},{"t":2017.963,"v":0.0226},
{"t":2018.013,"v":0.0219},{"t":2018.063,"v":0.0311},{"t":2018.113,"v":0.0219},{"t":2018.163,"v":0.0296},{"t":2018.213,"v":0.0195},{"t":2018.263,"v":0.0283},{"t":2018.313,"v":0.0196},{"t":2018.363,"v":0.0298},{"t":2018.413,"v":0.0197},{"t":2018.463,"v":0.0279},{"t":2018.513,"v":0.0176},{"t":2018.563,"v":0.0264},{"t":2018.613,"v":0.0176},{"t":2018.663,"v":0.0269},{"t":2018.713,"v":0.0175},{"t":2018.763,"v":0.0254},{"t":2018.813,"v":0.0146},{"t":2018.863,"v":0.0240},{"t":2018.913,"v":0.0147},{"t":2018.963,"v":0.0237},
{"t":2019.013,"v":0.0233},{"t":2019.063,"v":0.0131},{"t":2019.113,"v":0.0212},{"t":2019.163,"v":0.0125},{"t":2019.213,"v":0.0215},{"t":2019.263,"v":0.0117},{"t":2019.313,"v":0.0195},{"t":2019.363,"v":0.0084},{"t":2019.413,"v":0.0176},{"t":2019.463,"v":0.0083},{"t":2019.513,"v":0.0176},{"t":2019.563,"v":0.0082},{"t":2019.613,"v":0.0162},{"t":2019.663,"v":0.0062},{"t":2019.713,"v":0.0148},{"t":2019.763,"v":0.0063},{"t":2019.813,"v":0.0166},{"t":2019.863,"v":0.0067},{"t":2019.913,"v":0.0156},{"t":2019.963,"v":0.0062},
{"t":2020.013,"v":0.0060},{"t":2020.063,"v":0.0156},{"t":2020.113,"v":0.0069},{"t":2020.163,"v":0.0150},{"t":2020.213,"v":0.0054},{"t":2020.263,"v":0.0146},{"t":2020.313,"v":0.0059},{"t":2020.363,"v":0.0161},{"t":2020.413,"v":0.0059},{"t":2020.463,"v":0.0142},{"t":2020.513,"v":0.0039},{"t":2020.563,"v":0.0122},{"t":2020.613,"v":0.0030},{"t":2020.663,"v":0.0122},{"t":2020.713,"v":0.0029},{"t":2020.763,"v":0.0107},{"t":2020.813,"v":-0.0004},{"t":2020.863,"v":0.0087},{"t":2020.913,"v":-0.0009},{"t":2020.963,"v":0.0078},
{"t":2021.013,"v":0.0074},{"t":2021.063,"v":-0.0025},{"t":2021.113,"v":0.0058},{"t":2021.163,"v":-0.0026},{"t":2021.213,"v":0.0066},{"t":2021.263,"v":-0.0029},{"t":2021.313,"v":0.0051},{"t":2021.363,"v":-0.0058},{"t":2021.413,"v":0.0036},{"t":2021.463,"v":-0.0053},{"t":2021.513,"v":0.0041},{"t":2021.563,"v":-0.0053},{"t":2021.613,"v":0.0027},{"t":2021.663,"v":-0.0073},{"t":2021.713,"v":0.0013},{"t":2021.763,"v":-0.0073},{"t":2021.813,"v":0.0027},{"t":2021.863,"v":-0.0075},{"t":2021.913,"v":0.0011},{"t":2021.963,"v":-0.0086},
{"t":2022.013,"v":-0.0091},{"t":2022.063,"v":0.0001},{"t":2022.113,"v":-0.0089},{"t":2022.163,"v":-0.0012},{"t":2022.213,"v":-0.0112},{"t":2022.263,"v":-0.0024},{"t":2022.313,"v":-0.0110},{"t":2022.363,"v":-0.0006},{"t":2022.413,"v":-0.0106},{"t":2022.463,"v":-0.0022},{"t":2022.513,"v":-0.0123},{"t":2022.563,"v":-0.0036},{"t":2022.613,"v":-0.0122},{"t":2022.663,"v":-0.0029},{"t":2022.713,"v":-0.0121},{"t":2022.763,"v":-0.0042},{"t":2022.813,"v":-0.0152},{"t":2022.863,"v":-0.0060},{"t":2022.913,"v":-0.0156},{"t":2022.963,"v":-0.0069},
{"t":2023.013,"v":-0.0074},{"t":2023.063,"v":-0.0172},{"t":2023.113,"v":-0.0087},{"t":2023.163,"v":-0.0170},{"t":2023.213,"v":-0.0076},{"t":2023.263,"v":-0.0169},{"t":2023.313,"v":-0.0087},{"t":2023.363,"v":-0.0195},{"t":2023.413,"v":-0.0099},{"t":2023.463,"v":-0.0187},{"t":2023.513,"v":-0.0092},{"t":2023.563,"v":-0.0185},{"t":2023.613,"v":-0.0104},{"t":2023.663,"v":-0.0204},{"t":2023.713,"v":-0.0117},{"t":2023.763,"v":-0.0204},{"t":2023.813,"v":-0.0104},{"t":2023.863,"v":-0.0207},{"t":2023.913,"v":-0.0122},{"t":2023.963,"v":-0.0217},
{"t":2024.013,"v":-0.0211},{"t":2024.063,"v":-0.0109},{"t":2024.113,"v":-0.0195},{"t":2024.163,"v":-0.0112},{"t":2024.213,"v":-0.0207},{"t":2024.263,"v":-0.0115},{"t":2024.313,"v":-0.0200},{"t":2024.363,"v":-0.0095},{"t":2024.413,"v":-0.0195},{"t":2024.463,"v":-0.0111},{"t":2024.513,"v":-0.0211},{"t":2024.563,"v":-0.0124},{"t":2024.613,"v":-0.0212},{"t":2024.663,"v":-0.0119},{"t":2024.713,"v":-0.0213},{"t":2024.763,"v":-0.0134},{"t":2024.813,"v":-0.0243},{"t":2024.863,"v":-0.0149},{"t":2024.913,"v":-0.0244},{"t":2024.963,"v":-0.0155},
{"t":2025.013,"v":-0.0158},{"t":2025.063,"v":-0.0253},{"t":2025.113,"v":-0.0166},{"t":2025.163,"v":-0.0246},{"t":2025.213,"v":-0.0150},{"t":2025.263,"v":-0.0241},{"t":2025.313,"v":-0.0156},{"t":2025.363,"v":-0.0261},{"t":2025.413,"v":-0.0162},{"t":2025.463,"v":-0.0246},{"t":2025.513,"v":-0.0149},{"t":2025.563,"v":-0.0242},{"t":2025.613,"v":-0.0162},{"t":2025.663,"v":-0.0262},{"t":2025.713,"v":-0.0176},{"t":2025.763,"v":-0.0263},{"t":2025.813,"v":-0.0166},{"t":2025.863,"v":-0.0271},{"t":2025.913,"v":-0.0188},{"t":2025.963,"v":-0.0288},
{"t":2026.013,"v":-0.0296},{"t":2026.063,"v":-0.0205},{"t":2026.113,"v":-0.0296},{"t":2026.163,"v":-0.0220},{"t":2026.213,"v":-0.0319},{"t":2026.263,"v":-0.0230},{"t":2026.313,"v":-0.0316},{"t":2026.363,"v":-0.0213},{"t":2026.413,"v":-0.0314},
{"t":2017.015,"v":0.0219},{"t":2017.035,"v":0.0262},{"t":2017.055,"v":0.0270},{"t":2017.075,"v":0.0275},{"t":2017.155,"v":0.0268},{"t":2017.175,"v":0.0403},{"t":2017.195,"v":0.0408},{"t":2017.05,"v":0.0390},{"t":2017.285,"v":0.0406},{"t":2017.345,"v":0.0378},{"t":2017.395,"v":0.0375},{"t":2017.455,"v":0.0263},{"t":2017.475,"v":0.0270},{"t":2017.515,"v":0.0409},{"t":2017.535,"v":0.0276},{"t":2017.615,"v":0.0243},{"t":2017.685,"v":0.0360},{"t":2017.725,"v":0.0355},{"t":2017.865,"v":0.0327},{"t":2017.955,"v":0.0320},
{"t":2018.075,"v":0.0317},{"t":2018.0,"v":0.0168},{"t":2018.005,"v":0.0156},{"t":2018.065,"v":0.0178},{"t":2018.075,"v":0.0156},{"t":2018.105,"v":0.0168},{"t":2018.115,"v":0.0190},{"t":2018.225,"v":0.0339},{"t":2018.365,"v":0.0355},{"t":2018.385,"v":0.0317},{"t":2018.485,"v":0.0173},{"t":2018.495,"v":0.0140},{"t":2018.505,"v":0.0152},{"t":2018.665,"v":0.0152},{"t":2018.755,"v":0.0104},{"t":2018.775,"v":0.0106},{"t":2018.815,"v":0.0152},{"t":2018.905,"v":0.0298},{"t":2018.955,"v":0.0298},
{"t":2019.055,"v":0.0233},{"t":2019.065,"v":0.0092},{"t":2019.105,"v":0.0099},{"t":2019.225,"v":0.0095},{"t":2019.265,"v":0.0088},{"t":2019.465,"v":0.0209},{"t":2019.635,"v":0.0180},{"t":2019.675,"v":0.0050},{"t":2019.685,"v":0.0032},{"t":2019.775,"v":0.0044},{"t":2019.785,"v":0.0032},{"t":2019.835,"v":0.0168},{"t":2019.875,"v":0.0173},
{"t":2020.045,"v":0.0173},{"t":2020.085,"v":0.0024},{"t":2019.995,"v":0.0053},{"t":2020.215,"v":0.0048},{"t":2020.355,"v":0.0185},{"t":2020.315,"v":0.0166},{"t":2020.375,"v":0.0178},{"t":2020.575,"v":0.0159},{"t":2020.505,"v":0.0010},{"t":2020.525,"v":-0.0007},{"t":2020.585,"v":-0.0007},{"t":2020.645,"v":0.0020},{"t":2020.695,"v":-0.0007},{"t":2020.725,"v":-0.0024},{"t":2020.815,"v":0.0118},{"t":2020.855,"v":0.0125},
{"t":2021.075,"v":-0.0070},{"t":2021.035,"v":-0.0117},{"t":2021.375,"v":-0.0060},{"t":2021.405,"v":-0.0086},{"t":2021.705,"v":0.0077},{"t":2021.885,"v":-0.0117},{"t":2021.905,"v":-0.0115},{"t":2021.925,"v":-0.0163},{"t":2021.965,"v":-0.0196},
{"t":2022.005,"v":-0.0148},{"t":2022.135,"v":-0.0141},{"t":2022.145,"v":-0.0189},{"t":2022.205,"v":-0.0119},{"t":2022.405,"v":0.0032},{"t":2022.455,"v":-0.0129},{"t":2022.475,"v":-0.0177},{"t":2022.515,"v":-0.0131},{"t":2022.605,"v":-0.0139},{"t":2022.615,"v":-0.0153},{"t":2022.855,"v":-0.0064},{"t":2022.875,"v":-0.0060},{"t":2022.815,"v":-0.0146},{"t":2022.945,"v":-0.0198},{"t":2022.985,"v":-0.0189},
{"t":2023.065,"v":-0.0055},{"t":2023.075,"v":-0.0074},{"t":2023.495,"v":-0.0248},{"t":2023.535,"v":-0.0209},{"t":2023.615,"v":-0.0015},{"t":2023.655,"v":-0.0205},{"t":2023.745,"v":-0.0081},{"t":2023.765,"v":-0.0105},{"t":2023.805,"v":-0.0107},{"t":2023.905,"v":-0.0248},{"t":2023.915,"v":-0.0258},{"t":2023.955,"v":-0.0248},
{"t":2024.155,"v":-0.0105},{"t":2024.195,"v":-0.0112},{"t":2024.305,"v":-0.0093},{"t":2024.315,"v":-0.0237},{"t":2024.395,"v":-0.0237},{"t":2024.475,"v":-0.0237},{"t":2024.495,"v":-0.0021},{"t":2024.505,"v":-0.0091},{"t":2024.525,"v":-0.0261},{"t":2024.535,"v":-0.0237},{"t":2024.705,"v":-0.0057},{"t":2024.715,"v":-0.0105},{"t":2024.855,"v":-0.0275},{"t":2024.895,"v":-0.0259},{"t":2024.945,"v":-0.0107},
{"t":2025.015,"v":-0.0309},{"t":2025.095,"v":-0.0326},{"t":2025.125,"v":-0.0292},{"t":2025.105,"v":-0.0103},{"t":2025.195,"v":-0.0148},{"t":2025.265,"v":-0.0160},{"t":2025.285,"v":-0.0112},{"t":2025.375,"v":-0.0347},{"t":2025.395,"v":-0.0282},{"t":2025.415,"v":-0.0160},{"t":2025.445,"v":-0.0270},{"t":2025.595,"v":-0.0309},{"t":2025.635,"v":-0.0167},{"t":2025.735,"v":-0.0282},{"t":2025.965,"v":-0.0328},
{"t":2026.025,"v":-0.0335},{"t":2026.065,"v":-0.0333},{"t":2026.245,"v":-0.0328},{"t":2026.305,"v":-0.0328},{"t":2026.235,"v":-0.0222},{"t":2026.325,"v":-0.0222}
    ]
  },
  "layer": [
    {
      "data": {"name": "gnss"},
      "mark": {"type": "point", "filled": true, "shape": "circle", "size": 46, "color": "black", "opacity": 1, "strokeWidth": 0, "clip": true},
      "encoding": {
        "x": {
          "field": "t", "type": "quantitative",
          "scale": {"domain": [2017.0, 2026.42], "nice": false, "zero": false},
          "axis": {
            "orient": "bottom",
            "values": [2017.3333,2017.6667,2018,2018.3333,2018.6667,2019,2019.3333,2019.6667,2020,2020.3333,2020.6667,2021,2021.3333,2021.6667,2022,2022.3333,2022.6667,2023,2023.3333,2023.6667,2024,2024.3333,2024.6667,2025,2025.3333,2025.6667,2026,2026.3333],
            "tickSize": -8,
            "labelPadding": 23,
            "labelExpr": "abs(datum.value - round(datum.value)) < 0.01 ? format(round(datum.value), 'd') : ''",
            "labelFlush": false, "labelOverlap": false, "labelBound": false,
            "grid": true,
            "gridOpacity": {"condition": {"test": "abs(datum.value - round(datum.value)) < 0.01", "value": 1}, "value": 0},
            "title": "(1) 奈川(960611)-上宝(960618) 斜距離",
            "titleFont": "DejaVu Serif, Noto Sans CJK JP",
            "titleFontSize": 25,
            "titleX": 22, "titleY": -434, "titleAlign": "left", "titleBaseline": "alphabetic", "titleAngle": 0
          }
        },
        "y": {
          "field": "v", "type": "quantitative",
          "scale": {"domain": [-0.04, 0.06], "nice": false, "zero": false},
          "axis": {
            "orient": "left",
            "values": [-0.04,-0.03,-0.02,-0.01,0,0.01,0.02,0.03,0.04,0.05,0.06],
            "tickSize": {"condition": {"test": "abs(round(datum.value*100)) % 2 == 1", "value": -9}, "value": -16},
            "labelPadding": 31,
            "labelExpr": "abs(round(datum.value*100)) % 2 == 1 ? '' : format(datum.value, '.2f')",
            "labelFlush": false, "labelOverlap": false, "labelBound": false,
            "grid": true,
            "gridOpacity": {"condition": {"test": "abs(round(datum.value*100)) % 2 == 1", "value": 0}, "value": 1},
            "title": "(m)",
            "titleFont": "Liberation Sans", "titleFontSize": 25,
            "titleAngle": 0, "titleX": -77, "titleY": -17, "titleAlign": "left", "titleBaseline": "alphabetic"
          }
        }
      }
    },
    {
      "data": {"name": "gnss"},
      "transform": [{"filter": "datum.t < 2017.001"}],
      "mark": {"type": "point", "opacity": 0},
      "encoding": {
        "x": {
          "field": "t", "type": "quantitative",
          "scale": {"domain": [2017.0, 2026.42], "nice": false, "zero": false},
          "axis": {
            "orient": "top",
            "values": [2017.3333,2017.6667,2018,2018.3333,2018.6667,2019,2019.3333,2019.6667,2020,2020.3333,2020.6667,2021,2021.3333,2021.6667,2022,2022.3333,2022.6667,2023,2023.3333,2023.6667,2024,2024.3333,2024.6667,2025,2025.3333,2025.6667,2026,2026.3333],
            "tickSize": -8,
            "labels": false,
            "grid": false,
            "title": "基準値: 36392.905m",
            "titleFont": "DejaVu Serif, Noto Sans CJK JP",
            "titleFontSize": 25,
            "titleX": 1286, "titleY": -17, "titleAlign": "right", "titleBaseline": "alphabetic", "titleAngle": 0
          }
        },
        "y": {
          "field": "v", "type": "quantitative",
          "scale": {"domain": [-0.04, 0.06], "nice": false, "zero": false},
          "axis": {
            "orient": "right",
            "values": [-0.04,-0.03,-0.02,-0.01,0,0.01,0.02,0.03,0.04,0.05,0.06],
            "tickSize": {"condition": {"test": "abs(round(datum.value*100)) % 2 == 1", "value": -9}, "value": -16},
            "labels": false,
            "grid": false,
            "title": null
          }
        }
      }
    }
  ],
  "resolve": {"scale": {"x": "independent", "y": "independent"}, "axis": {"x": "independent", "y": "independent"}}
}
